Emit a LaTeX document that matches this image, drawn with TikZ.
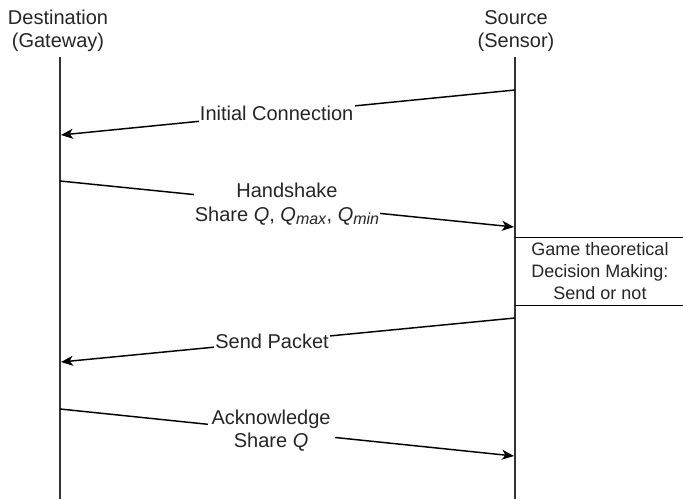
\documentclass[tikz,border=0pt]{standalone}
\usepackage{fontspec}
\setmainfont{Liberation Sans}
\usetikzlibrary{arrows.meta}
% italic Q with a lowered italic index
\newcommand{\qidx}[1]{\textit{Q}\raisebox{-2.6pt}{\fontsize{12pt}{12pt}\selectfont\textit{#1}}}
\begin{document}
\begin{tikzpicture}[x=0.75pt,y=-0.75pt,
  lifeline/.style={draw=black!80,line width=1.3pt},
  msg/.style={draw=black,line width=1.1pt,-{Stealth[length=9pt,width=7.5pt,inset=2.5pt]}},
  msglabel/.style={fill=white,inner sep=1pt,align=center,text=black!85,
    font=\fontsize{15pt}{17.5pt}\selectfont},
  header/.style={align=center,text=black!85,font=\fontsize{15pt}{17pt}\selectfont},
  boxtext/.style={align=center,text=black!85,font=\fontsize{13.5pt}{16.5pt}\selectfont}]
\useasboundingbox (0,0) rectangle (683,499);

% participants
\node[header] (dst) at (58,31) {Destination\\(Gateway)};
\node[header] (src) at (516,31) {Source\\(Sensor)};

% lifelines
\coordinate (dtop) at (60,57);
\coordinate (dbot) at (60,499);
\coordinate (stop) at (515,57);
\coordinate (sbot) at (515,499);
\draw[lifeline] (dtop) -- (dbot);
\draw[lifeline] (stop) -- (sbot);

% message end points
\coordinate (m1s) at (515,90);  \coordinate (m1e) at (61,135);
\coordinate (m2s) at (60,181);  \coordinate (m2e) at (514,227);
\coordinate (m3s) at (515,318); \coordinate (m3e) at (61,362);
\coordinate (m4s) at (60,409);  \coordinate (m4e) at (514,456);

% messages
\draw[msg] (m1s) -- node[msglabel,pos=0.525] (l1) {Initial Connection} (m1e);
\draw[msg] (m2s) -- node[msglabel,pos=0.50] (l2)
  {Handshake\\Share \textit{Q}, \qidx{max}, \qidx{min}} (m2e);
\draw[msg] (m3s) -- node[msglabel,pos=0.535] (l3) {Send Packet} (m3e);
\draw[msg] (m4s) -- node[msglabel,pos=0.465,inner xsep=3pt] (l4) {Acknowledge\\Share \textit{Q}} (m4e);

% decision box on the source side
\coordinate (btl) at (515,237); \coordinate (btr) at (683,237);
\coordinate (bbl) at (515,305); \coordinate (bbr) at (683,305);
\draw[black,line width=0.6pt] (btl) -- (btr);
\draw[black,line width=0.6pt] (bbl) -- (bbr);
\node[boxtext] (game) at (600,271) {Game theoretical\\Decision Making:\\Send or not};
\end{tikzpicture}
\end{document}
